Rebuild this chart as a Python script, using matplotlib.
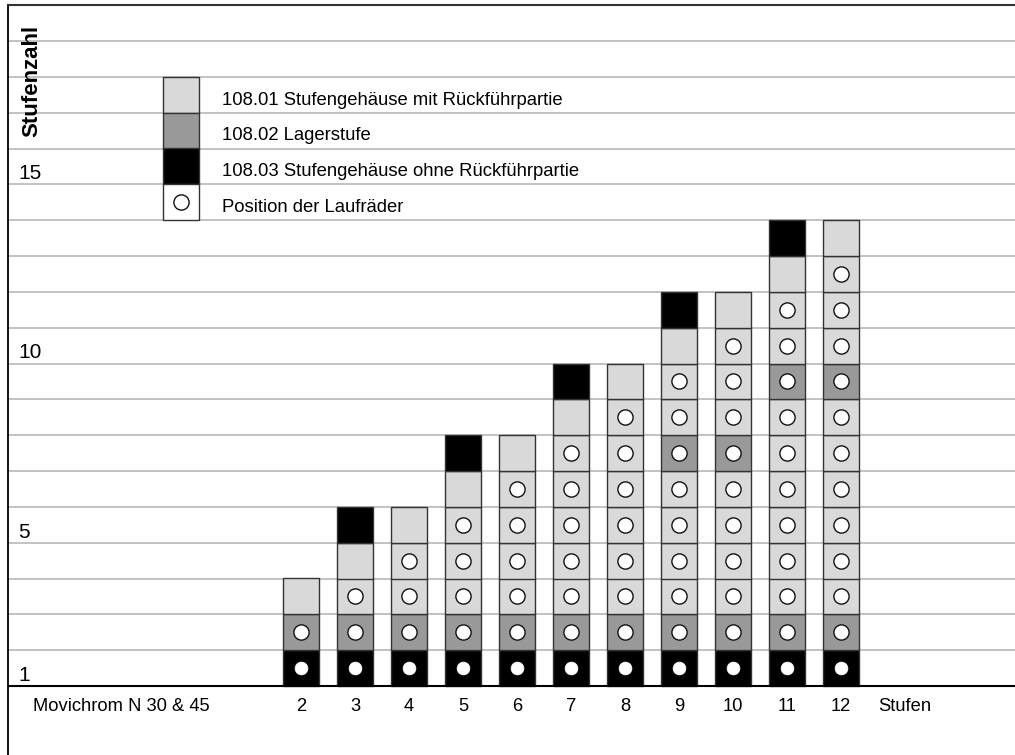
import matplotlib
matplotlib.use("Agg")
import matplotlib.pyplot as plt
from matplotlib.patches import Rectangle

plt.rcParams['font.family'] = ['Liberation Sans', 'DejaVu Sans']

# ---------------- data ----------------
stages = [2, 3, 4, 5, 6, 7, 8, 9, 10, 11, 12]
# stack composition from bottom: B = 108.03 (black), G = 108.02 (grey), L = 108.01 (light)
stacks = [
    "BGL",
    "BGLLB",
    "BGLLL",
    "BGLLLLB",
    "BGLLLLL",
    "BGLLLLLLB",
    "BGLLLLLLL",
    "BGLLLLGLLLB",
    "BGLLLLGLLLL",
    "BGLLLLLLGLLLB",
    "BGLLLLLLGLLLL",
]
# number of impeller positions (circles), counted from the bottom
impellers = [2, 3, 4, 5, 6, 7, 8, 9, 10, 11, 12]
ytick_values = [1, 5, 10, 15]
legend_codes = ["L", "G", "B", "O"]
legend_labels = [
    "108.01 Stufengehäuse mit Rückführpartie",
    "108.02 Lagerstufe",
    "108.03 Stufengehäuse ohne Rückführpartie",
    "Position der Laufräder",
]
colors = {"L": "#d9d9d9", "G": "#999999", "B": "#000000", "O": "#ffffff"}

# ---------------- layout ----------------
W, H = 1015, 755
fig = plt.figure(figsize=(W / 100, H / 100), dpi=100)
left_px, top_px = 8, 5
ax = fig.add_axes([left_px / W, 0, 1 - left_px / W, 1 - top_px / H])

xpx_per_unit = 54.0
x0_px = 193.0          # pixel of x = 0
base_px = 686.0
row_px = (686.0 - 41.0) / 18.0

def px2x(p):
    return (p - x0_px) / xpx_per_unit

def px2y(p):
    return (base_px - p) / row_px

ax.set_xlim(px2x(left_px), px2x(W))
ax.set_ylim(px2y(H), px2y(top_px))
for s in ["right", "bottom"]:
    ax.spines[s].set_visible(False)
ax.spines["left"].set_color("#000000")
ax.spines["left"].set_linewidth(1.3)
ax.spines["top"].set_color("#333333")
ax.spines["top"].set_linewidth(1.5)
ax.set_xticks([])
ax.set_yticks([])

# gridlines
for k in range(1, 19):
    ax.axhline(k, color="#bdbdbd", lw=1.3, zorder=1)
ax.axhline(0, color="#000000", lw=1.5, zorder=4)

box_w = 36 / xpx_per_unit
edge = "#333333"

# stacks
for n, stack, nimp in zip(stages, stacks, impellers):
    for i, code in enumerate(stack):
        ax.add_patch(Rectangle((n - box_w / 2, i), box_w, 1, facecolor=colors[code],
                               edgecolor=edge, lw=1.0, zorder=3))
    for i in range(nimp):
        if stack[i] == "B":
            ax.scatter([n], [i + 0.5], s=85, facecolor="white", edgecolor="white",
                       lw=0.5, zorder=5)
        else:
            ax.scatter([n], [i + 0.5], s=120, facecolor="white", edgecolor="#111111",
                       lw=1.0, zorder=5)

# y labels
for v in ytick_values:
    ax.text(px2x(18), v - 1 + 5 / row_px, str(v), fontsize=15, ha="left",
            va="baseline", zorder=6)

ax.text(px2x(37), px2y(137), "Stufenzahl", fontsize=16, fontweight="bold",
        rotation=90, ha="left", va="baseline", rotation_mode="anchor", zorder=6)

# x labels
lab_y = px2y(711)
for n in stages:
    ax.text(n, lab_y, str(n), fontsize=13.2, ha="center", va="baseline")
ax.text(px2x(33), lab_y, "Movichrom N 30 & 45", fontsize=13.2, ha="left", va="baseline")
ax.text(px2x(878), lab_y, "Stufen", fontsize=13.2, ha="left", va="baseline")

# legend
leg_cx = px2x(181)
for j, (code, label) in enumerate(zip(legend_codes, legend_labels)):
    row = 16 - j
    ax.add_patch(Rectangle((leg_cx - box_w / 2, row), box_w, 1, facecolor=colors[code],
                           edgecolor=edge, lw=1.0, zorder=3))
    if code == "O":
        ax.scatter([leg_cx], [row + 0.5], s=120, facecolor="white", edgecolor="#111111",
                   lw=1.0, zorder=5)
    ax.text(px2x(222), row + 8 / row_px, label, fontsize=13.3, ha="left",
            va="baseline", zorder=6)

fig.savefig("out.png", dpi=100)
